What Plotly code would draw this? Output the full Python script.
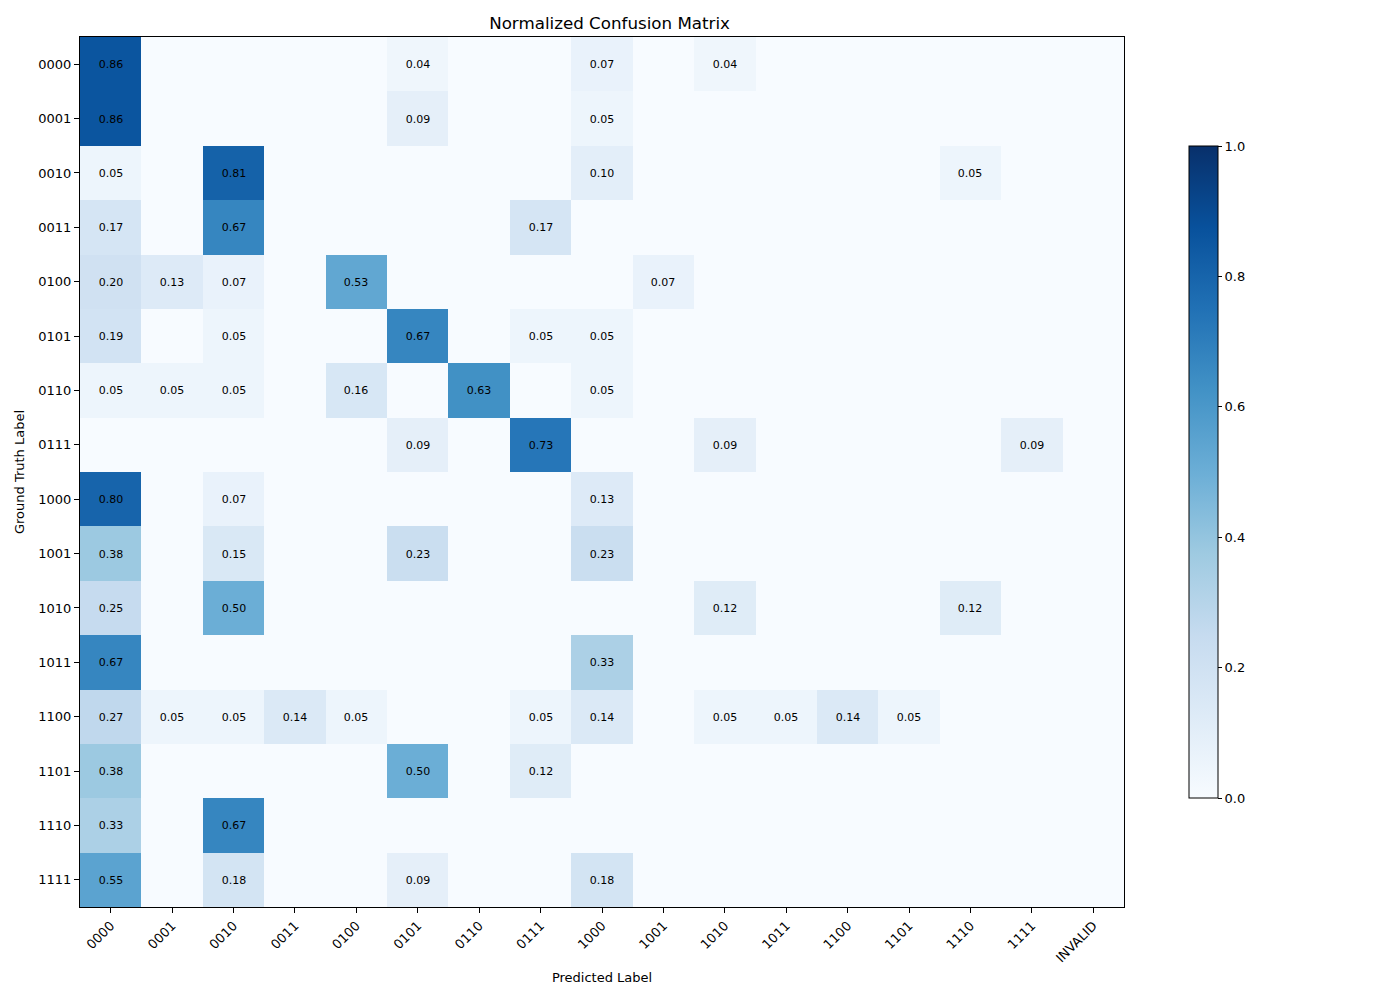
import plotly.graph_objects as go

pred_labels = ["0000", "0001", "0010", "0011", "0100", "0101", "0110", "0111",
               "1000", "1001", "1010", "1011", "1100", "1101", "1110", "1111", "INVALID"]
true_labels = ["0000", "0001", "0010", "0011", "0100", "0101", "0110", "0111",
               "1000", "1001", "1010", "1011", "1100", "1101", "1110", "1111"]

# rows: ground truth, columns: predicted
row_0000 = [0.86, 0, 0, 0, 0, 0.04, 0, 0, 0.07, 0, 0.04, 0, 0, 0, 0, 0, 0]
row_0001 = [0.86, 0, 0, 0, 0, 0.09, 0, 0, 0.05, 0, 0, 0, 0, 0, 0, 0, 0]
row_0010 = [0.05, 0, 0.81, 0, 0, 0, 0, 0, 0.10, 0, 0, 0, 0, 0, 0.05, 0, 0]
row_0011 = [0.17, 0, 0.67, 0, 0, 0, 0, 0.17, 0, 0, 0, 0, 0, 0, 0, 0, 0]
row_0100 = [0.20, 0.13, 0.07, 0, 0.53, 0, 0, 0, 0, 0.07, 0, 0, 0, 0, 0, 0, 0]
row_0101 = [0.19, 0, 0.05, 0, 0, 0.67, 0, 0.05, 0.05, 0, 0, 0, 0, 0, 0, 0, 0]
row_0110 = [0.05, 0.05, 0.05, 0, 0.16, 0, 0.63, 0, 0.05, 0, 0, 0, 0, 0, 0, 0, 0]
row_0111 = [0, 0, 0, 0, 0, 0.09, 0, 0.73, 0, 0, 0.09, 0, 0, 0, 0, 0.09, 0]
row_1000 = [0.80, 0, 0.07, 0, 0, 0, 0, 0, 0.13, 0, 0, 0, 0, 0, 0, 0, 0]
row_1001 = [0.38, 0, 0.15, 0, 0, 0.23, 0, 0, 0.23, 0, 0, 0, 0, 0, 0, 0, 0]
row_1010 = [0.25, 0, 0.50, 0, 0, 0, 0, 0, 0, 0, 0.12, 0, 0, 0, 0.12, 0, 0]
row_1011 = [0.67, 0, 0, 0, 0, 0, 0, 0, 0.33, 0, 0, 0, 0, 0, 0, 0, 0]
row_1100 = [0.27, 0.05, 0.05, 0.14, 0.05, 0, 0, 0.05, 0.14, 0, 0.05, 0.05, 0.14, 0.05, 0, 0, 0]
row_1101 = [0.38, 0, 0, 0, 0, 0.50, 0, 0.12, 0, 0, 0, 0, 0, 0, 0, 0, 0]
row_1110 = [0.33, 0, 0.67, 0, 0, 0, 0, 0, 0, 0, 0, 0, 0, 0, 0, 0, 0]
row_1111 = [0.55, 0, 0.18, 0, 0, 0.09, 0, 0, 0.18, 0, 0, 0, 0, 0, 0, 0, 0]

matrix = [row_0000, row_0001, row_0010, row_0011, row_0100, row_0101, row_0110, row_0111,
          row_1000, row_1001, row_1010, row_1011, row_1100, row_1101, row_1110, row_1111]

cbar_ticks = [0.0, 0.2, 0.4, 0.6, 0.8, 1.0]

blues = ["rgb(247,251,255)", "rgb(222,235,247)", "rgb(198,219,239)", "rgb(158,202,225)",
         "rgb(107,174,214)", "rgb(66,146,198)", "rgb(33,113,181)", "rgb(8,81,156)", "rgb(8,48,107)"]
colorscale = [[i / (len(blues) - 1), c] for i, c in enumerate(blues)]

text = [["%.2f" % v if v > 0 else "" for v in row] for row in matrix]

FONT = "DejaVu Sans"

fig = go.Figure(go.Heatmap(
    z=matrix, x=pred_labels, y=true_labels,
    zmin=0, zmax=1, colorscale=colorscale,
    text=text, texttemplate="%{text}",
    textfont=dict(family=FONT, size=11, color="black"),
    xgap=0, ygap=0,
    colorbar=dict(
        x=1.0623, xanchor="left", xref="paper", xpad=0, ypad=0,
        y=0.5, yanchor="middle", len=0.749, lenmode="fraction",
        thickness=29, outlinewidth=1, outlinecolor="black",
        tickvals=cbar_ticks, tickformat=".1f", ticks="outside", ticklen=4,
        tickcolor="black", tickfont=dict(family=FONT, size=13, color="black"),
    ),
))

fig.update_layout(
    width=1400, height=1000,
    margin=dict(l=72, r=284, t=29, b=101),
    paper_bgcolor="white", plot_bgcolor="white",
    font=dict(family=FONT, color="black"),
    title=dict(text="Normalized Confusion Matrix", x=0.4297, xanchor="center",
               y=1 - 15 / 1000, yanchor="middle", font=dict(family=FONT, size=16.7, color="black")),
)
fig.update_xaxes(
    title=dict(text="Predicted Label", font=dict(family=FONT, size=13), standoff=8),
    tickangle=-45, ticks="outside", ticklen=5, tickcolor="black",
    tickfont=dict(family=FONT, size=13), showline=True, linecolor="black",
    linewidth=1, mirror=True, showgrid=False, zeroline=False,
)
fig.update_yaxes(
    title=dict(text="Ground Truth Label", font=dict(family=FONT, size=13), standoff=10),
    autorange="reversed", ticks="outside", ticklen=5, tickcolor="black",
    tickfont=dict(family=FONT, size=13), showline=True, linecolor="black",
    linewidth=1, mirror=True, showgrid=False, zeroline=False,
)

fig.write_html("out.html")
